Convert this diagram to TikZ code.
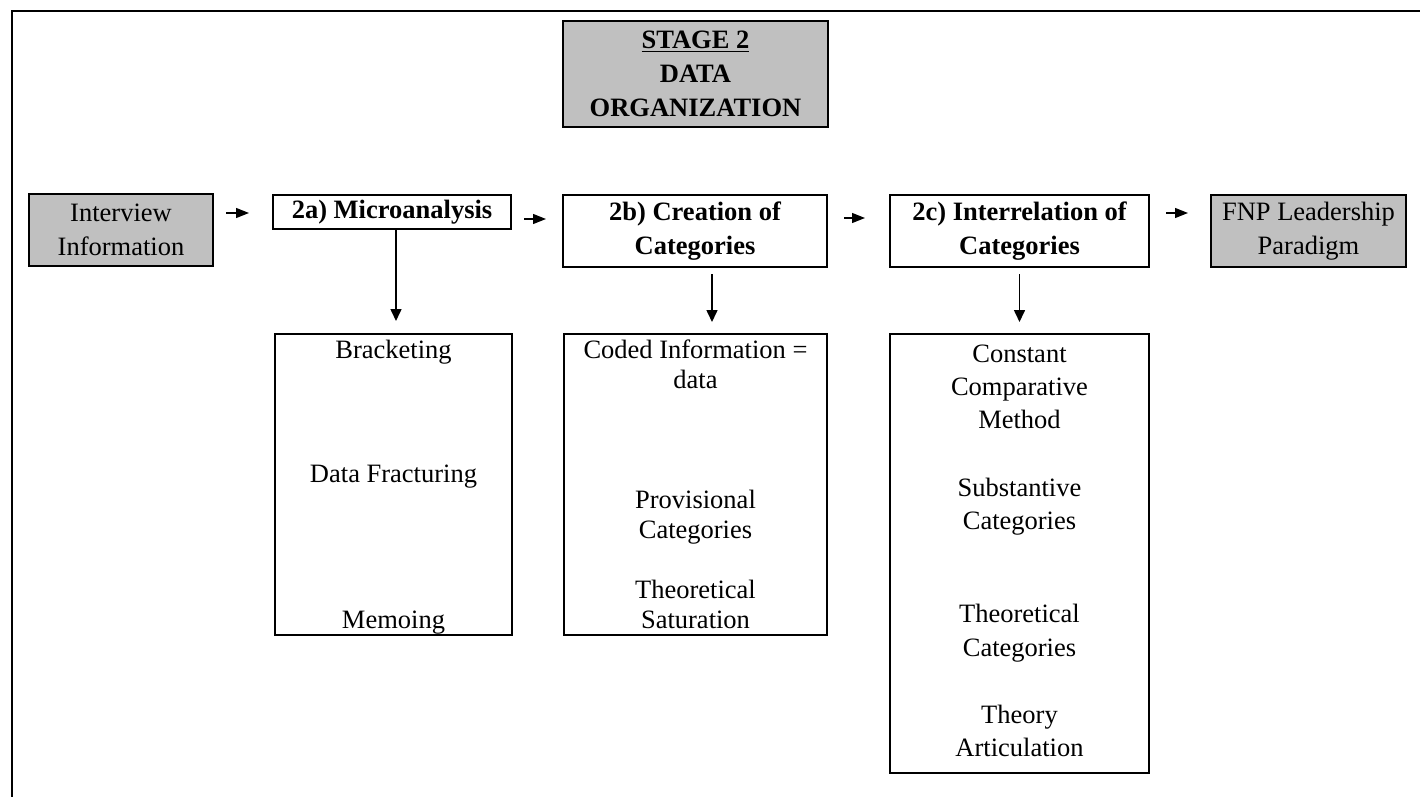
\documentclass[tikz,border=0pt]{standalone}
\usepackage{fontspec}
\setmainfont{Liberation Serif}
\usetikzlibrary{arrows.meta,calc}
\definecolor{boxgray}{RGB}{192,192,192}
\begin{document}
\begin{tikzpicture}[x=0.5pt,y=-0.5pt,
  txt/.style={font=\fontsize{13.25}{17}\selectfont},
  btxt/.style={font=\fontsize{13.25}{17}\selectfont\bfseries},
  box/.style={draw,line width=1pt,inner sep=0pt,align=center,txt},
  bbox/.style={box,btxt},
  grey/.style={box,fill=boxgray},
  harrow/.style={line width=0.7pt,-{Triangle[length=6.5pt,width=5pt]}},
  varrow/.style={line width=0.8pt,-{Triangle[length=6pt,width=5.5pt]}},
  item/.style={anchor=base,inner sep=0pt,txt}]
\useasboundingbox (0,0) rectangle (1420,797);
% page frame (top and left edges)
\draw[line width=1.2pt] (12,797) -- (12,11) -- (1420,11);

% title
\node[grey,btxt,minimum width=132.5pt,minimum height=53pt] (stage) at (695.5,74)
  {\underline{STAGE 2}\\DATA\\ORGANIZATION};

% main row
\node[grey,minimum width=92pt,minimum height=36pt] (iv) at (121,230) {Interview\\Information};
\node[bbox,minimum width=119pt,minimum height=17pt] (ma) at (392,212) {2a) Microanalysis};
\node[bbox,minimum width=132pt,minimum height=36pt] (cb) at (695,231) {2b) Creation of\\Categories};
\node[bbox,minimum width=129.5pt,minimum height=36pt] (ir) at (1019.5,231) {2c) Interrelation of\\Categories};
\node[grey,minimum width=97.5pt,minimum height=36pt] (fnp) at (1308.5,231) {FNP Leadership\\Paradigm};

% detail boxes
\node[box,minimum width=118.5pt,minimum height=150.5pt] (brk) at (393.5,484.5) {};
\node[box,minimum width=131.5pt,minimum height=150.5pt] (cod) at (695.5,484.5) {};
\node[box,minimum width=129.5pt,minimum height=219.5pt] (ccm) at (1019.5,553.5) {};

\foreach \t/\y [count=\i] in {Bracketing/358,Data Fracturing/482,Memoing/628}
  \node[item,name=b\i] at (393.5,\y) {\t};
\foreach \t/\y [count=\i] in {Coded Information =/358,data/388,Provisional/508,
    Categories/538,Theoretical/598,Saturation/628}
  \node[item,name=c\i] at (695.5,\y) {\t};
\foreach \t/\y [count=\i] in {Constant/362,Comparative/395,Method/428,Substantive/496,
    Categories/529,Theoretical/622,Categories/656,Theory/723,Articulation/756}
  \node[item,name=m\i] at (1019.5,\y) {\t};

% flow arrows
\draw[harrow] ($(iv.east)+(12,-17)$) -- ($(ma.west)+(-23,1)$);
\draw[harrow] ($(ma.east)+(12,7)$) -- ($(cb.west)+(-16,-12)$);
\draw[harrow] ($(cb.east)+(16,-13)$) -- ($(ir.west)+(-24,-13)$);
\draw[harrow] ($(ir.east)+(16,-18)$) -- ($(fnp.west)+(-22,-18)$);

\draw[varrow] ($(ma.south)+(4,0)$) -- ($(brk.north)+(2.5,-12)$);
\draw[varrow] ($(cb.south)+(17,6)$) -- ($(cod.north)+(16.5,-11)$);
\draw[varrow] ($(ir.south)+(0,6)$) -- ($(ccm.north)+(0,-11)$);
\end{tikzpicture}
\end{document}
